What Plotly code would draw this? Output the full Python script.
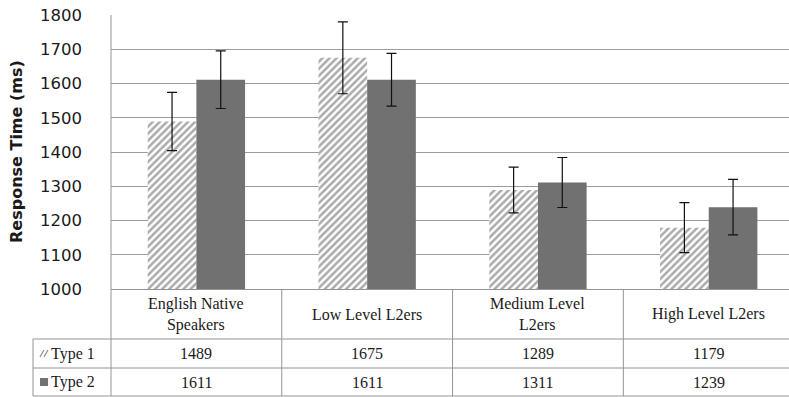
import plotly.graph_objects as go

# ---- data ----
categories = ["English Native<br>Speakers", "Low Level L2ers", "Medium Level<br>L2ers", "High Level L2ers"]
series_names = ["Type 1", "Type 2"]
type1 = [1489, 1675, 1289, 1179]
type2 = [1611, 1611, 1311, 1239]
type1_err = [85, 105, 67, 73]
type2_err = [84, 77, 73, 81]
y_ticks = [1000, 1100, 1200, 1300, 1400, 1500, 1600, 1700, 1800]

# ---- geometry helpers (pixels -> paper) ----
W, H = 789, 397
ML, MR, MT, MB = 111, 0, 15, 108
PW, PH = W - ML - MR, H - MT - MB


def px(xp):
    return (xp - ML) / PW


def py(yp):
    return (H - MB - yp) / PH


GRID = "#9c9c9c"
BORDER = "#949494"
SERIF = "Liberation Serif, Times New Roman, serif"
SANS = "DejaVu Sans, Arial, sans-serif"
TXT = 16

xpos = list(range(len(categories)))

fig = go.Figure()
fig.add_trace(go.Bar(
    x=xpos, y=type1, name=series_names[0],
    marker=dict(color="white", line=dict(width=0),
                pattern=dict(shape="/", fgcolor="#555555", bgcolor="white",
                             size=5, solidity=0.5)),
    error_y=dict(type="data", array=type1_err, color="#111111", thickness=1.2, width=5),
    showlegend=False,
))
fig.add_trace(go.Bar(
    x=xpos, y=type2, name=series_names[1],
    marker=dict(color="#717171", line=dict(width=0)),
    error_y=dict(type="data", array=type2_err, color="#111111", thickness=1.2, width=5),
    showlegend=False,
))

shapes = []
# left border running from the plot top through the data table
shapes.append(dict(type="line", xref="paper", yref="paper", x0=0, x1=0,
                   y0=1, y1=py(396), line=dict(color=BORDER, width=1)))
# category column separators in the table
for b in [0.5, 1.5, 2.5]:
    shapes.append(dict(type="line", xref="x", yref="paper", x0=b, x1=b,
                       y0=0, y1=py(396), line=dict(color=BORDER, width=1)))
# table row rules
for yy in [339, 368, 396]:
    shapes.append(dict(type="line", xref="paper", yref="paper", x0=px(33), x1=1,
                       y0=py(yy), y1=py(yy), line=dict(color=BORDER, width=1)))
# legend column left edge
shapes.append(dict(type="line", xref="paper", yref="paper", x0=px(33), x1=px(33),
                   y0=py(339), y1=py(396), line=dict(color=BORDER, width=1)))
# legend keys: hatched (two slashes) and solid square
for x0 in [40, 44]:
    shapes.append(dict(type="line", xref="paper", yref="paper",
                       x0=px(x0), y0=py(357), x1=px(x0 + 4), y1=py(350),
                       line=dict(color="#8a8a8a", width=1.2)))
shapes.append(dict(type="rect", xref="paper", yref="paper",
                   x0=px(40), x1=px(48), y0=py(386), y1=py(378),
                   fillcolor="#717171", line=dict(width=0)))

annotations = []
# category header row
for i, c in enumerate(categories):
    annotations.append(dict(x=i, y=py(314), xref="x", yref="paper", text=c,
                            showarrow=False, xanchor="center", yanchor="middle",
                            font=dict(family=SERIF, size=TXT, color="#1a1a1a")))
# value rows
for row_y, vals in [(353.5, type1), (382, type2)]:
    for i, v in enumerate(vals):
        annotations.append(dict(x=i, y=py(row_y), xref="x", yref="paper", text=str(v),
                                showarrow=False, xanchor="center", yanchor="middle",
                                font=dict(family=SERIF, size=TXT, color="#1a1a1a")))
# series names in the legend column
for row_y, name in [(353.5, series_names[0]), (382, series_names[1])]:
    annotations.append(dict(x=px(49), y=py(row_y), xref="paper", yref="paper", text=name,
                            showarrow=False, xanchor="left", yanchor="middle",
                            font=dict(family=SERIF, size=TXT, color="#1a1a1a")))
# y-axis title
annotations.append(dict(x=px(16), y=py(152), xref="paper", yref="paper",
                        text="<b>Response Time (ms)</b>", textangle=-90,
                        showarrow=False, xanchor="center", yanchor="middle",
                        font=dict(family=SANS, size=16, color="#1a1a1a")))

fig.update_layout(
    width=W, height=H,
    margin=dict(l=ML, r=MR, t=MT, b=MB),
    paper_bgcolor="white", plot_bgcolor="white",
    barmode="group", bargap=0.43, bargroupgap=0,
    shapes=shapes, annotations=annotations,
    xaxis=dict(range=[-0.5, 3.47], showticklabels=False, showgrid=False,
               zeroline=False, showline=True, linecolor=BORDER, linewidth=1,
               ticks=""),
    yaxis=dict(range=[1000, 1800], tickvals=y_ticks, showgrid=True, gridcolor=GRID,
               gridwidth=1, zeroline=False, showline=False, ticks="",
               ticklabelstandoff=28,
               tickfont=dict(family=SANS, size=16.5, color="#1a1a1a")),
)

fig.write_html("out.html")
